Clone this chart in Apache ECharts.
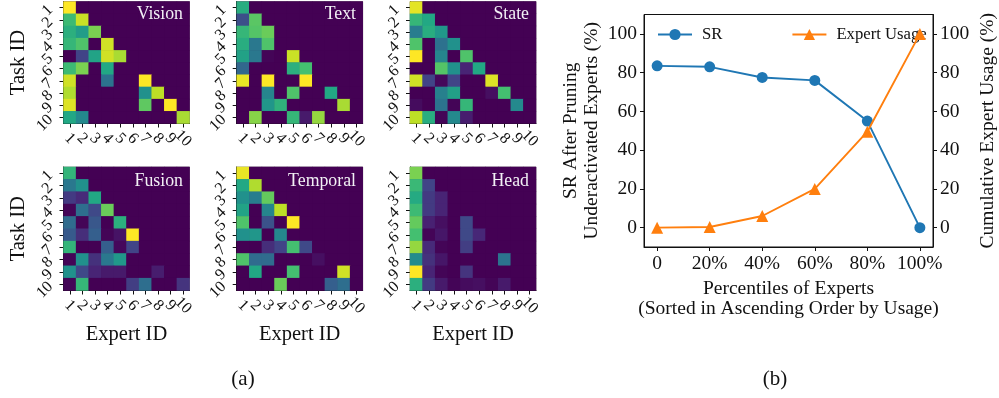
<!DOCTYPE html>
<html><head><meta charset="utf-8">
<style>html,body{margin:0;padding:0;background:#fff}#c{width:999px;height:398px}</style>
<script src="https://cdn.jsdelivr.net/npm/echarts@6/dist/echarts.min.js"></script>
</head><body><div id="c"></div>
<script>
const expertIds = ['1','2','3','4','5','6','7','8','9','10'];
const taskIds = ['1','2','3','4','5','6','7','8','9','10'];
const vision = [
[1.0],
[.68,.92],
[.63,.55,.8],
[.66,.72,0,.93],
[0,.2,.58,.93,.87],
[.68,.8,0,.6,0],
[.93,0,0,.38,0,0,1.0],
[.88,0,0,0,0,0,.5,.9],
[.95,0,0,0,0,0,.75,0,1],
[.6,.47,0,0,0,0,0,0,0,.87]];
const text = [
[.62],
[.24,.74],
[.66,.73,.77],
[.62,.4,.72],
[.57,.4,.01,0,.92],
[.33,0,0,0,.63,.7],
[.97,0,1,0,0,1],
[0,0,.45,0,.72,0,0,.6],
[0,0,.52,.64,0,0,0,0,.87],
[0,.82,0,0,.66,.07,.84]];
const state = [
[.96],
[.66,.6],
[.42,.62,.53],
[.72,0,.37,.5],
[1,0,.45,0,.72],
[0,0,.73,.5,.1,.6],
[.93,.2,.02,.2,0,0,.95],
[0,0,.43,.56,0,0,.04,.7],
[.03,0,.38,.01,.66,0,0,0,.47],
[.9,.62,.01,.47,.08]];
const fusion = [
[.65],
[.4,.5],
[.17,.12,.6],
[.01,.36,.22,.77],
[.35,.01,.27,0,.63],
[.28,.13,.3,.01,.05,1],
[.65,0,0,.3,.02,.2],
[.01,.5,.14,.4,.53],
[.5,.22,.1,.07,.07,0,0,.08],
[.01,.66,0,0,0,.18,.36,0,0,.15]];
const temporal = [
[.97],
[.6,.88],
[.5,.42,.76],
[.58,0,.45,.9],
[.72,0,.25,0,1],
[.5,.52,0,.46],
[0,0,.13,.2,.7,.22],
[.72,.35,.35,0,0,0,.04],
[0,.6,0,0,.7,0,0,0,.93],
[0,0,0,.77,0,0,0,.3,.36]];
const head = [
[.8],
[.67,.2],
[.61,.17,.1],
[.68,.17,.1],
[.76,.09,.04,0,.22],
[.7,.01,.06,0,.22,.11],
[.84,.12,.01,0,.18],
[.48,.14,.06,0,0,0,0,.38],
[1,.1,.01,0,.15],
[.63,.17,.07,.01,.03,.04,.01,.07]];
const percentiles = [0,20,40,60,80,100];
const srValues = [83.5,83,77.5,76,55,0];
const usageValues = [0,0.3,6,20,49.5,100];
const yTicks = [0,20,40,60,80,100];

const serif = '"Liberation Serif","Times New Roman",serif';
const viridis = ['#440154','#482475','#414487','#355f8d','#2a788e','#21918c','#22a884','#44bf70','#7ad151','#bddf26','#fde725'];
const panels = [
 {name:'Vision',m:vision,x:63.5,y:0,labelX:183,labelY:5,tY:true,tX:false},
 {name:'Text',m:text,x:236.7,y:0,labelX:356,labelY:5,tY:false,tX:false},
 {name:'State',m:state,x:410,y:0,labelX:529,labelY:5,tY:false,tX:false},
 {name:'Fusion',m:fusion,x:63.5,y:167,labelX:183,labelY:172,tY:true,tX:true},
 {name:'Temporal',m:temporal,x:236.7,y:167,labelX:356,labelY:172,tY:false,tX:true},
 {name:'Head',m:head,x:410,y:167,labelX:529,labelY:172,tY:false,tX:true}
];
const W=126,H=123.5;
const grid=[],xAxis=[],yAxis=[],series=[],title=[];
panels.forEach((p,i)=>{
  grid.push({left:p.x,top:p.y,width:W,height:H,containLabel:false,show:true,borderColor:'#555',borderWidth:.6,backgroundColor:'#440154'});
  xAxis.push({type:'category',gridIndex:i,data:expertIds,
    axisLine:{show:true,lineStyle:{color:'#111',width:1}},
    axisTick:{show:true,alignWithLabel:true,length:4,lineStyle:{color:'#111',width:1}},
    axisLabel:{rotate:-45,align:'center',verticalAlign:'middle',fontFamily:serif,fontSize:16,color:'#111',margin:15,interval:0},
    splitLine:{show:false},splitArea:{show:false},
    name:p.tX?'Expert ID':'',nameLocation:'middle',nameGap:34,
    nameTextStyle:{fontFamily:serif,fontSize:20.5,color:'#111'}});
  yAxis.push({type:'category',gridIndex:i,inverse:true,data:taskIds,
    axisLine:{show:true,lineStyle:{color:'#111',width:1}},
    axisTick:{show:true,alignWithLabel:true,length:4,lineStyle:{color:'#111',width:1}},
    axisLabel:{rotate:45,fontFamily:serif,fontSize:16,color:'#111',margin:13,interval:0},
    splitLine:{show:false},splitArea:{show:false},
    name:p.tY?'Task ID':'',nameLocation:'middle',nameGap:34,
    nameTextStyle:{fontFamily:serif,fontSize:20.5,color:'#111'}});
  const data=[];
  p.m.forEach((row,r)=>{expertIds.forEach((_,c)=>{data.push([c,r,row[c]||0]);});});
  series.push({type:'heatmap',name:p.name,xAxisIndex:i,yAxisIndex:i,data,
    emphasis:{disabled:true},itemStyle:{borderWidth:0},progressive:0,silent:true});
  title.push({text:p.name,left:p.labelX,top:p.labelY,textAlign:'right',padding:0,
    textStyle:{fontFamily:serif,fontSize:17.8,fontWeight:'normal',color:'#f2f0f5'}});
});
const nHeat=panels.length;
// line panel
grid.push({left:644,top:14.5,width:292.5,height:232.5,show:true,borderColor:'#111',borderWidth:1,backgroundColor:'#fff'});
xAxis.push({type:'value',gridIndex:nHeat,min:-5,max:105,
  axisLine:{show:true,onZero:false,lineStyle:{color:'#111',width:1}},
  axisTick:{show:true,length:4,customValues:percentiles,lineStyle:{color:'#111'}},
  axisLabel:{customValues:percentiles,formatter:v=>v===0?'0':v+'%',fontFamily:serif,fontSize:19.5,color:'#111',margin:7,hideOverlap:false,showMinLabel:true,showMaxLabel:true},
  splitLine:{show:false},
  name:'Percentiles of Experts\n(Sorted in Ascending Order by Usage)',nameLocation:'middle',nameGap:30,
  nameTextStyle:{fontFamily:serif,fontSize:19.5,color:'#111',lineHeight:20,verticalAlign:'top'}});
yAxis.push({type:'value',gridIndex:nHeat,min:-10,max:110,position:'left',
  axisLine:{show:true,onZero:false,lineStyle:{color:'#111',width:1}},
  axisTick:{show:true,length:4,customValues:yTicks,lineStyle:{color:'#111'}},
  axisLabel:{customValues:yTicks,fontFamily:serif,fontSize:19.5,color:'#111',margin:7},
  splitLine:{show:false},
  name:'SR After Pruning\nUnderactivated Experts (%)',nameLocation:'middle',nameGap:42,
  nameTextStyle:{fontFamily:serif,fontSize:19.5,color:'#111',lineHeight:20.5}});
yAxis.push({type:'value',gridIndex:nHeat,min:-10,max:110,position:'right',
  axisLine:{show:true,onZero:false,lineStyle:{color:'#111',width:1}},
  axisTick:{show:true,length:4,customValues:yTicks,lineStyle:{color:'#111'}},
  axisLabel:{customValues:yTicks,fontFamily:serif,fontSize:19.5,color:'#111',margin:7},
  splitLine:{show:false},
  name:'Cumulative Expert Usage (%)',nameLocation:'middle',nameGap:45,nameRotate:90,
  nameTextStyle:{fontFamily:serif,fontSize:19.5,color:'#111'}});
series.push({type:'line',name:'SR',xAxisIndex:nHeat,yAxisIndex:nHeat,
  data:percentiles.map((p,i)=>[p,srValues[i]]),symbol:'circle',symbolSize:11,
  lineStyle:{color:'#1f77b4',width:1.9},itemStyle:{color:'#1f77b4'},z:5});
series.push({type:'line',name:'Expert Usage',xAxisIndex:nHeat,yAxisIndex:nHeat+1,
  data:percentiles.map((p,i)=>[p,usageValues[i]]),symbol:'triangle',symbolSize:12,
  lineStyle:{color:'#ff7f0e',width:1.9},itemStyle:{color:'#ff7f0e'},z:6});
title.push({text:'(a)',left:243,top:369,textAlign:'center',padding:0,textStyle:{fontFamily:serif,fontSize:21,fontWeight:'normal',color:'#111'}});
title.push({text:'(b)',left:775,top:369,textAlign:'center',padding:0,textStyle:{fontFamily:serif,fontSize:21,fontWeight:'normal',color:'#111'}});

const chart=echarts.init(document.getElementById('c'),null,{renderer:'canvas'});
chart.setOption({
  animation:false,backgroundColor:'#fff',
  title,grid,xAxis,yAxis,series,
  visualMap:{show:false,min:0,max:1,seriesIndex:panels.map((_,i)=>i),inRange:{color:viridis}},
  legend:{data:['SR','Expert Usage'],left:657,top:26,itemWidth:34,itemHeight:14,itemGap:69,padding:0,
    selectedMode:false,textStyle:{fontFamily:serif,fontSize:16.7,color:'#111',padding:[0,0,0,5]}}
});
</script></body></html>
